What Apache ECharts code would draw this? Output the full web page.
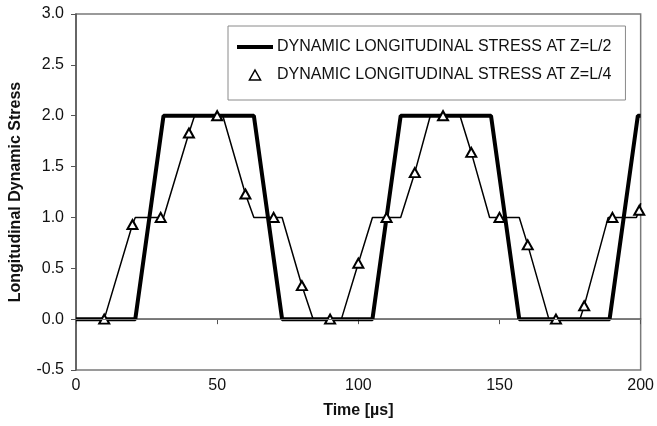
<!DOCTYPE html>
<html>
<head>
<meta charset="utf-8">
<script src="https://cdn.jsdelivr.net/npm/echarts@6/dist/echarts.min.js"></script>
<style>html,body{margin:0;padding:0;background:#fff}#c{width:657px;height:426px}</style>
</head>
<body>
<div id="c"></div>
<script>
// Dynamic longitudinal stress at Z=L/2 (thick line) - breakpoints
const halfTime   = [0, 21, 31, 63, 73, 105, 115, 147, 157, 189, 199, 200];
const halfStress = [0, 0, 2, 2, 0, 0, 2, 2, 0, 0, 2, 2];

// Dynamic longitudinal stress at Z=L/4 (thin line) - breakpoints
const quarterTime   = [0, 10.5, 21, 31, 42, 52, 63, 73, 84, 94, 105, 115, 125.5, 136, 146.5, 157, 167.5, 178.5, 188.5, 198.5, 200];
const quarterStress = [0, 0, 1, 1, 2, 2, 1, 1, 0, 0, 1, 1, 2, 2, 1, 1, 0, 0, 1, 1, 1.14];

// Triangle marker samples on the L/4 curve
const markTime   = [10, 20, 30, 40, 50, 60, 70, 80, 90, 100, 110, 120, 130, 140, 150, 160, 170, 180, 190, 199.5];
const markStress = [0, 0.93, 1.0, 1.83, 2.0, 1.23, 1.0, 0.33, 0, 0.55, 1.0, 1.44, 2.0, 1.64, 1.0, 0.73, 0, 0.13, 1.0, 1.07];

const xTicks = [0, 50, 100, 150, 200];
const yTicks = [-0.5, 0, 0.5, 1, 1.5, 2, 2.5, 3];

const nameHalf = 'DYNAMIC LONGITUDINAL STRESS AT Z=L/2';
const nameQuarter = 'DYNAMIC LONGITUDINAL STRESS AT Z=L/4';

const FONT = 'Liberation Sans, Arial, sans-serif';

// merge L/4 breakpoints and markers into one line
const qPts = [];
quarterTime.forEach((t, i) => qPts.push({ value: [t, quarterStress[i]], symbol: 'none' }));
markTime.forEach((t, i) => qPts.push({ value: [t, markStress[i]] }));
qPts.sort((a, b) => a.value[0] - b.value[0]);

const chart = echarts.init(document.getElementById('c'));
chart.setOption({
  animation: false,
  backgroundColor: '#fff',
  grid: { left: 75, right: 11, top: 14, bottom: 56, show: true, borderColor: '#7a7a7a', borderWidth: 1.5, backgroundColor: 'transparent' },
  legend: {
    orient: 'vertical',
    left: 228, top: 26,
    padding: [13, 14, 17, 9],
    itemGap: 12,
    itemWidth: 36, itemHeight: 10,
    borderColor: '#8a8a8a', borderWidth: 1,
    backgroundColor: '#fff',
    textStyle: { fontFamily: FONT, fontSize: 16, color: '#111', padding: [0, 0, 0, -1] },
    data: [
      { name: nameHalf, icon: 'path://M0,0 L36,0 L36,4 L0,4 Z', itemStyle: { color: '#000' } },
      { name: nameQuarter, icon: 'path://M5,0 L10,9 L0,9 Z',
        itemStyle: { color: '#fff', borderColor: '#000', borderWidth: 1.5 } }
    ]
  },
  xAxis: {
    type: 'value', min: 0, max: 200, interval: 50,
    name: 'Time [µs]', nameLocation: 'middle', nameGap: 33,
    nameTextStyle: { fontFamily: FONT, fontSize: 16, fontWeight: 'bold', color: '#111' },
    axisLine: { show: true, lineStyle: { color: '#555', width: 1.5 } },
    axisTick: { show: true, inside: false, length: 5, lineStyle: { color: '#555' } },
    axisLabel: { fontFamily: FONT, fontSize: 16, color: '#111', margin: 8,
      formatter: v => xTicks.includes(v) ? String(v) : '' },
    splitLine: { show: false }
  },
  yAxis: {
    type: 'value', min: -0.5, max: 3, interval: 0.5,
    name: 'Longitudinal Dynamic Stress', nameLocation: 'middle', nameGap: 52,
    nameTextStyle: { fontFamily: FONT, fontSize: 16, fontWeight: 'bold', color: '#111' },
    axisLine: { show: true, lineStyle: { color: '#555', width: 1.5 } },
    axisTick: { show: true, inside: false, length: 5, lineStyle: { color: '#555' } },
    axisLabel: { fontFamily: FONT, fontSize: 16, color: '#111', margin: 12,
      formatter: v => yTicks.includes(v) ? v.toFixed(1) : '' },
    splitLine: { show: false }
  },
  series: [
    {
      name: nameHalf, type: 'line',
      data: halfTime.map((t, i) => [t, halfStress[i]]),
      symbol: 'none',
      lineStyle: { color: '#000', width: 4 },
      itemStyle: { color: '#000' },
      z: 3,
      markLine: {
        silent: true, symbol: 'none', label: { show: false },
        lineStyle: { color: '#777', width: 1, type: 'solid' },
        data: [{ yAxis: 0 }]
      }
    },
    {
      name: nameQuarter, type: 'line',
      data: qPts,
      symbol: 'emptyTriangle', symbolSize: [10, 9], showAllSymbol: true,
      lineStyle: { color: '#000', width: 1.5 },
      itemStyle: { color: '#000', borderWidth: 1.5 },
      z: 4
    }
  ]
});
</script>
</body>
</html>
